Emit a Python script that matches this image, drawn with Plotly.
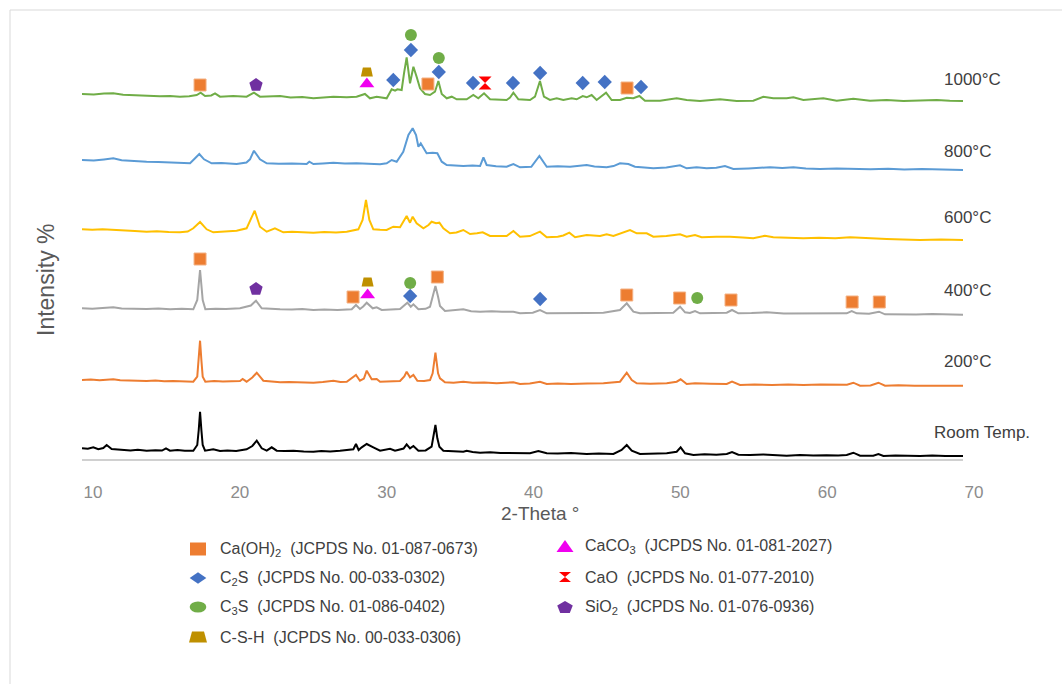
import plotly.graph_objects as go

# ---------------------------------------------------------------------------
# XRD patterns: (2-theta in degrees, intensity in a.u. above the curve's own zero)
# ---------------------------------------------------------------------------
RT = [
    (10.0, 10.7), (10.4, 10.2), (10.77, 11.7), (11.11, 9.7), (11.45, 11.0), (11.68, 14.0),
    (12.02, 10.0), (12.4, 9.6), (12.81, 9.0), (13.3, 8.6), (13.8, 9.2), (14.4, 8.3),
    (15.0, 8.8), (15.45, 8.4), (15.72, 10.7), (15.99, 8.3), (16.5, 8.9), (17.0, 8.2),
    (17.58, 8.3), (17.85, 14.0), (17.95, 29.0), (18.04, 47.3), (18.13, 29.0), (18.22, 14.0),
    (18.38, 8.3), (18.94, 9.7), (19.4, 8.0), (19.9, 8.6), (20.5, 8.1), (21.21, 9.7),
    (21.6, 13.0), (21.9, 18.3), (22.24, 10.7), (22.58, 8.3), (22.92, 11.7), (23.26, 8.3),
    (23.8, 7.9), (24.4, 8.2), (25.1, 7.6), (25.76, 7.3), (26.3, 7.9), (26.9, 7.5),
    (27.57, 8.3), (28.48, 9.7), (28.66, 15.0), (28.84, 9.0), (29.05, 11.7), (29.39, 15.0),
    (29.84, 11.7), (30.3, 8.3), (30.98, 10.3), (31.32, 8.3), (31.9, 10.5), (32.11, 14.7),
    (32.34, 10.7), (32.57, 13.0), (32.91, 8.3), (33.4, 8.6), (33.81, 12.3), (33.93, 20.7),
    (34.07, 34.0), (34.2, 20.7), (34.34, 12.3), (34.61, 8.3), (35.2, 7.8), (35.97, 7.3),
    (36.2, 8.3), (36.6, 7.0), (37.11, 6.3), (37.8, 6.8), (38.5, 6.1), (39.38, 5.7),
    (40.51, 5.7), (41.08, 8.0), (41.65, 5.7), (42.4, 5.4), (43.3, 5.9), (44.37, 5.0),
    (45.2, 5.6), (46.19, 5.0), (46.75, 9.0), (47.1, 14.0), (47.44, 8.3), (48.0, 5.0),
    (48.9, 5.5), (49.82, 5.7), (50.5, 7.3), (50.77, 11.7), (51.07, 5.7), (51.64, 4.0),
    (52.4, 4.7), (53.2, 4.3), (53.91, 5.0), (54.27, 7.0), (54.7, 4.3), (55.5, 4.0),
    (56.4, 4.6), (57.2, 3.8), (57.99, 3.3), (58.9, 3.9), (59.8, 3.4), (60.7, 3.8),
    (61.5, 3.4), (62.08, 4.0), (62.53, 6.3), (62.99, 3.3), (63.89, 3.3), (64.24, 5.0),
    (64.58, 3.0), (65.4, 3.5), (66.2, 3.0), (67.07, 3.0), (67.9, 3.4), (68.8, 2.9), (70.0, 3.0),
]

T200 = [
    (10.0, 9.0), (10.6, 9.4), (11.2, 8.7), (11.7, 9.2), (12.13, 9.7), (12.6, 8.8),
    (13.2, 8.5), (13.8, 8.9), (14.4, 8.0), (15.0, 8.4), (15.6, 7.8), (16.2, 8.1),
    (16.9, 7.6), (17.58, 7.3), (17.85, 12.3), (17.95, 29.0), (18.04, 48.3), (18.13, 29.0),
    (18.22, 12.3), (18.4, 7.3), (19.0, 7.9), (19.6, 7.5), (20.2, 8.0), (20.76, 8.0),
    (20.94, 10.0), (21.21, 7.3), (21.6, 11.5), (21.9, 16.3), (22.35, 8.3), (22.9, 7.4),
    (23.49, 6.7), (24.1, 7.1), (24.8, 6.6), (25.76, 6.3), (26.4, 6.9), (27.12, 8.3),
    (27.6, 7.0), (28.03, 7.3), (28.66, 14.0), (28.93, 8.3), (29.2, 10.5), (29.39, 18.3),
    (29.73, 9.7), (30.07, 10.0), (30.3, 7.3), (31.0, 7.6), (31.66, 8.0), (31.95, 12.5),
    (32.11, 17.3), (32.34, 11.7), (32.57, 14.0), (32.84, 8.3), (33.3, 8.0), (33.7, 9.0),
    (33.88, 15.7), (34.07, 36.3), (34.25, 15.7), (34.38, 10.7), (34.72, 6.7), (35.3, 6.3),
    (35.97, 7.3), (36.6, 6.2), (37.4, 6.6), (38.24, 5.7), (38.9, 6.0), (39.38, 6.7),
    (39.83, 5.0), (40.5, 5.4), (41.19, 7.3), (41.65, 5.0), (42.4, 5.5), (43.3, 5.1),
    (44.4, 5.6), (45.51, 5.7), (46.64, 7.3), (47.1, 16.3), (47.44, 9.0), (47.78, 5.7),
    (48.7, 5.3), (49.82, 5.7), (50.5, 7.3), (50.77, 9.7), (51.18, 5.0), (51.75, 5.7),
    (52.8, 5.2), (53.91, 5.0), (54.27, 7.3), (54.81, 4.0), (55.8, 4.4), (57.0, 4.0),
    (58.1, 4.5), (59.13, 4.0), (60.3, 4.4), (61.4, 3.9), (62.1, 4.2), (62.53, 6.3),
    (62.99, 3.3), (63.7, 3.6), (64.24, 6.3), (64.69, 3.3), (65.6, 3.7), (66.7, 3.3),
    (67.8, 3.6), (68.9, 3.2), (70.0, 3.3),
]

T400 = [
    (10.0, 10.7), (10.7, 10.3), (11.4, 11.0), (12.13, 11.7), (12.7, 10.6), (13.5, 10.2),
    (14.4, 10.0), (15.2, 10.4), (16.0, 9.8), (16.8, 10.2), (17.58, 9.7), (17.85, 19.0),
    (17.95, 34.0), (18.04, 49.0), (18.13, 34.0), (18.22, 19.0), (18.4, 9.7), (19.1, 10.3),
    (19.8, 9.9), (20.76, 10.7), (21.5, 13.5), (21.85, 18.3), (22.24, 10.7), (22.8, 10.0),
    (23.49, 9.7), (24.3, 9.4), (25.0, 9.9), (25.76, 9.0), (26.5, 9.5), (27.4, 9.1),
    (28.37, 9.7), (28.66, 14.0), (28.93, 10.0), (29.15, 12.5), (29.39, 16.3), (29.8, 10.7),
    (30.07, 11.7), (30.41, 9.0), (31.0, 9.6), (31.66, 10.0), (32.16, 16.3), (32.39, 12.3),
    (32.57, 14.7), (32.91, 9.7), (33.4, 10.2), (33.7, 12.3), (33.88, 22.3), (34.07, 33.0),
    (34.25, 22.3), (34.38, 13.0), (34.72, 8.0), (35.3, 8.5), (35.97, 9.7), (36.5, 7.8),
    (37.11, 7.3), (37.9, 7.8), (38.6, 7.2), (39.38, 7.3), (39.83, 5.7), (40.7, 6.2),
    (41.19, 9.0), (41.65, 5.7), (42.5, 6.0), (43.4, 5.6), (44.4, 6.1), (45.51, 6.3),
    (46.64, 9.0), (47.1, 15.7), (47.55, 7.3), (48.0, 5.7), (48.9, 6.1), (49.6, 5.8),
    (50.27, 6.3), (50.73, 12.3), (51.07, 6.7), (51.4, 6.0), (51.75, 8.0), (52.09, 5.7),
    (53.0, 6.2), (53.91, 6.3), (54.27, 9.0), (54.7, 5.7), (55.6, 6.0), (56.63, 6.7),
    (57.8, 5.6), (59.13, 5.7), (60.3, 6.0), (61.3, 5.5), (62.08, 5.7), (62.42, 8.0),
    (62.76, 5.7), (63.6, 5.3), (64.28, 7.3), (64.69, 4.7), (65.7, 5.0), (66.8, 4.6),
    (67.9, 4.9), (69.0, 4.4), (70.0, 4.3),
]

T600 = [
    (10.0, 19.7), (10.7, 19.2), (11.4, 19.8), (12.13, 19.0), (12.8, 18.5), (13.6, 18.0),
    (14.4, 17.3), (15.1, 17.8), (15.9, 16.9), (16.67, 16.7), (17.2, 17.5), (17.58, 20.7),
    (18.04, 27.0), (18.49, 19.7), (18.94, 16.7), (19.6, 17.4), (20.53, 18.3), (21.21, 20.7),
    (21.49, 29.0), (21.76, 38.3), (22.12, 22.3), (22.58, 17.3), (23.14, 20.7), (23.71, 16.7),
    (24.3, 17.2), (25.0, 16.5), (25.76, 16.3), (26.5, 16.9), (27.3, 16.6), (28.03, 17.3),
    (28.82, 19.7), (29.11, 29.0), (29.34, 49.0), (29.57, 29.0), (29.84, 19.7), (30.3, 19.2),
    (30.75, 19.0), (31.2, 22.3), (31.66, 21.7), (32.11, 33.0), (32.34, 26.3), (32.52, 32.3),
    (32.79, 25.7), (33.25, 20.7), (33.6, 24.0), (33.81, 27.3), (34.11, 25.7), (34.34, 26.3),
    (34.61, 20.7), (35.06, 15.7), (35.5, 16.5), (35.97, 19.0), (36.43, 15.0), (36.9, 15.8),
    (37.29, 16.7), (37.79, 13.0), (38.4, 13.4), (38.92, 13.0), (39.38, 18.0), (39.83, 12.3),
    (40.5, 12.9), (41.19, 17.3), (41.65, 11.7), (42.4, 12.3), (42.78, 13.5), (43.19, 16.3),
    (43.58, 11.7), (44.37, 14.0), (45.28, 13.0), (45.73, 14.7), (46.19, 13.0), (46.87, 16.3),
    (47.32, 19.0), (47.78, 15.7), (48.46, 15.7), (48.91, 12.3), (49.8, 12.9), (50.73, 14.7),
    (51.18, 12.3), (51.75, 14.0), (52.2, 11.7), (53.2, 12.2), (54.13, 12.3), (55.0, 11.4),
    (55.72, 10.7), (56.51, 13.3), (57.08, 11.7), (58.1, 11.2), (59.13, 10.7), (60.2, 11.3),
    (61.3, 10.8), (62.31, 11.7), (63.5, 10.6), (64.8, 10.0), (65.9, 9.6), (67.07, 9.0),
    (68.5, 9.4), (70.0, 9.0),
]

T800 = [
    (10.0, 19.0), (10.8, 18.4), (11.5, 19.6), (12.13, 20.7), (12.7, 18.8), (13.5, 17.9),
    (14.4, 17.3), (15.2, 17.0), (16.0, 16.4), (16.8, 16.0), (17.36, 15.7), (17.7, 20.7),
    (17.99, 25.0), (18.31, 19.7), (18.83, 15.7), (19.5, 15.9), (20.53, 15.0), (21.2, 16.5),
    (21.44, 19.7), (21.71, 28.3), (22.12, 19.7), (22.58, 15.7), (23.4, 15.2), (24.3, 15.6),
    (25.3, 15.0), (25.48, 17.3), (25.76, 15.0), (26.4, 15.6), (27.12, 16.3), (27.9, 15.4),
    (28.7, 15.8), (29.5, 15.2), (30.3, 14.7), (30.75, 15.7), (31.09, 19.0), (31.43, 17.3),
    (31.88, 27.3), (32.23, 44.0), (32.52, 50.7), (32.75, 44.0), (32.91, 32.3), (33.07, 35.7),
    (33.25, 30.7), (33.47, 25.7), (33.88, 26.3), (34.2, 25.7), (34.5, 17.3), (34.84, 14.0),
    (35.4, 13.6), (35.97, 13.0), (36.6, 13.4), (37.11, 13.0), (37.34, 21.7), (37.56, 14.0),
    (38.2, 12.8), (38.92, 12.3), (39.38, 15.0), (39.83, 11.7), (40.6, 12.2), (41.15, 23.0),
    (41.65, 12.3), (42.4, 12.8), (43.24, 12.3), (44.0, 13.2), (44.37, 14.0), (44.9, 12.6),
    (45.73, 11.7), (46.2, 12.9), (46.64, 15.7), (47.21, 15.0), (47.66, 12.3), (48.3, 11.4),
    (48.91, 10.7), (49.8, 11.4), (50.73, 13.7), (51.18, 10.7), (51.86, 11.7), (52.54, 10.7),
    (53.2, 11.2), (53.79, 13.0), (54.36, 10.0), (55.4, 10.6), (56.2, 11.2), (56.86, 11.7),
    (57.7, 11.0), (58.45, 11.7), (59.3, 10.5), (60.26, 10.0), (61.4, 10.4), (62.53, 10.0),
    (63.7, 9.7), (64.9, 10.2), (66.0, 9.6), (67.2, 9.9), (68.5, 9.3), (70.0, 9.0),
]

T1000 = [
    (10.0, 15.0), (10.8, 14.6), (11.5, 15.4), (12.13, 15.7), (12.8, 14.2), (13.6, 13.6),
    (14.4, 13.0), (15.3, 12.7), (16.0, 12.9), (16.67, 12.3), (17.3, 12.8), (17.81, 14.0),
    (18.08, 16.3), (18.38, 13.0), (18.8, 13.6), (19.06, 15.7), (19.4, 12.3), (20.3, 12.9),
    (21.21, 12.3), (21.71, 16.3), (22.12, 12.3), (22.8, 12.8), (23.49, 13.0), (24.2, 11.6),
    (25.0, 11.9), (25.76, 10.7), (26.4, 11.5), (27.12, 12.3), (28.03, 11.7), (28.7, 12.2),
    (29.27, 15.0), (29.61, 10.7), (30.07, 12.3), (30.75, 10.7), (31.09, 19.7), (31.32, 18.3),
    (31.48, 19.7), (31.77, 19.0), (31.93, 35.7), (32.11, 51.7), (32.34, 25.7), (32.57, 42.3),
    (32.79, 32.3), (33.02, 20.7), (33.36, 15.0), (33.7, 14.0), (34.04, 17.3), (34.27, 28.0),
    (34.5, 15.0), (34.84, 10.7), (35.18, 12.3), (35.52, 9.7), (36.2, 9.7), (36.65, 14.0),
    (36.99, 10.7), (37.38, 15.7), (37.79, 9.7), (38.4, 9.4), (38.92, 9.0), (39.15, 11.5),
    (39.38, 16.3), (39.72, 9.7), (40.51, 9.0), (40.85, 12.3), (41.19, 28.0), (41.46, 12.3),
    (41.87, 9.0), (42.33, 10.7), (42.78, 9.0), (43.35, 10.7), (43.69, 9.7), (44.1, 13.0),
    (44.37, 11.7), (44.71, 14.0), (45.05, 9.0), (45.69, 16.3), (46.07, 9.0), (46.64, 9.0),
    (47.1, 11.3), (47.55, 10.7), (47.96, 13.0), (48.34, 8.3), (49.37, 8.3), (50.5, 10.7),
    (51.18, 9.0), (52.09, 8.0), (53.45, 9.7), (54.59, 8.0), (55.72, 8.3), (56.4, 12.3),
    (57.08, 10.7), (57.99, 10.7), (58.45, 11.7), (59.13, 9.0), (60.49, 10.7), (61.4, 8.3),
    (62.53, 10.3), (63.67, 8.3), (64.8, 8.9), (65.94, 8.0), (67.1, 8.7), (68.21, 9.0),
    (69.1, 8.3), (70.0, 8.0),
]

PATTERNS = [RT, T200, T400, T600, T800, T1000]
SAMPLE_NAMES = ["Room Temp.", "200°C", "400°C", "600°C", "800°C", "1000°C"]
STACK_OFFSETS = [0, 70, 140, 210, 280, 350]
LINE_COLORS = ["#000000", "#ED7D31", "#A5A5A5", "#FFC000", "#5B9BD5", "#70AD47"]

# ---------------------------------------------------------------------------
# Phase identification marks (2-theta, stacked height of the tag)
# ---------------------------------------------------------------------------
CAOH2_TT = [18.04, 33.56, 47.12, 18.04, 28.46, 34.2, 47.1, 50.7, 54.2, 62.45, 64.3]
CAOH2_Y = [374, 375, 371, 200, 162, 182, 164, 161, 159, 157, 157]
C2S_TT = [31.2, 32.4, 34.3, 36.63, 39.35, 41.2, 44.1, 45.6, 48.07, 32.35, 41.2]
C2S_Y = [379, 409, 387, 376, 376, 386, 376, 377, 372, 163, 160]
C3S_TT = [32.4, 34.3, 32.35, 51.9]
C3S_Y = [424, 401, 176, 161]
CSH_TT = [29.4, 29.45]
CSH_Y = [387, 177]
CACO3_TT = [29.4, 29.45]
CACO3_Y = [375, 164]
CAO_TT = [37.45]
CAO_Y = [376]
SIO2_TT = [21.85, 21.85]
SIO2_Y = [374, 170]

LEGEND_LEFT = [
    "Ca(OH)<sub>2</sub>\u00a0 (JCPDS No. 01-087-0673)",
    "C<sub>2</sub>S\u00a0 (JCPDS No. 00-033-0302)",
    "C<sub>3</sub>S\u00a0 (JCPDS No. 01-086-0402)",
    "C-S-H\u00a0 (JCPDS No. 00-033-0306)",
]
LEGEND_RIGHT = [
    "CaCO<sub>3</sub>\u00a0 (JCPDS No. 01-081-2027)",
    "CaO\u00a0 (JCPDS No. 01-077-2010)",
    "SiO<sub>2</sub>\u00a0 (JCPDS No. 01-076-0936)",
]

X_TICKS = [10, 20, 30, 40, 50, 60, 70]

# ---------------------------------------------------------------------------
# Page geometry (pixels)
# ---------------------------------------------------------------------------
FIG_W, FIG_H = 1062, 684
PL, PR, PT, PB = 82, 963, 20, 459
PW, PH = PR - PL, PB - PT


def paper_x(px):
    return (px - PL) / PW


def paper_y(py):
    return (PB - py) / PH


def poly(pts):
    return "M " + " L ".join(f"{x:.2f},{y:.2f}" for x, y in pts) + " Z"


def trapezoid(bottom, top, h):
    return poly([(-bottom / 2, -h / 2), (bottom / 2, -h / 2), (top / 2, h / 2), (-top / 2, h / 2)])


def pentagon(w, h):
    base = [(0, 1), (0.951, 0.309), (0.588, -0.809), (-0.588, -0.809), (-0.951, 0.309)]
    sx, sy = w / 1.902, h / 1.809
    return poly([(x * sx, (y - 0.0955) * sy) for x, y in base])


fig = go.Figure()

for pts, off, col in zip(PATTERNS, STACK_OFFSETS, LINE_COLORS):
    fig.add_trace(go.Scatter(
        x=[p[0] for p in pts], y=[p[1] + off for p in pts],
        mode="lines", line=dict(color=col, width=2),
        hoverinfo="skip", showlegend=False,
    ))

PHASE_MARKS = [
    (CAOH2_TT, CAOH2_Y, dict(symbol="square", size=12, color="#ED7D31", line=dict(color="#F4B183", width=1))),
    (C2S_TT, C2S_Y, dict(symbol="diamond", size=11, color="#4472C4", line=dict(width=0))),
    (C3S_TT, C3S_Y, dict(symbol="circle", size=12, color="#70AD47", line=dict(width=0))),
    (CACO3_TT, CACO3_Y, dict(symbol="triangle-up", size=13, color="#F000F0", line=dict(width=0))),
    (CAO_TT, CAO_Y, dict(symbol="hourglass", size=13, color="#FF0000", line=dict(width=0))),
    (SIO2_TT, SIO2_Y, dict(symbol="pentagon", size=14, color="#7030A0", line=dict(width=0))),
]
for tt, yy, mk in PHASE_MARKS:
    fig.add_trace(go.Scatter(x=tt, y=yy, mode="markers", marker=mk,
                             cliponaxis=False, hoverinfo="skip", showlegend=False))

shapes = []
# C-S-H tags (trapezoids anchored on the data coordinates)
for tt, yy in zip(CSH_TT, CSH_Y):
    shapes.append(dict(type="path", xref="x", yref="y", xsizemode="pixel", ysizemode="pixel",
                       xanchor=tt, yanchor=yy, path=trapezoid(12, 8, 9),
                       fillcolor="#BF9000", line=dict(width=0)))

# outer frame
shapes.append(dict(type="rect", xref="paper", yref="paper", layer="below",
                   x0=paper_x(10), x1=paper_x(1080), y0=paper_y(700), y1=paper_y(10),
                   line=dict(color="#D9D9D9", width=1), fillcolor="rgba(0,0,0,0)"))

# legend keys
LEFT_ROWS = [549, 578, 607, 637]
RIGHT_ROWS = [546, 577, 607]
LEFT_KEY_X, LEFT_TEXT_X = 198, 218
RIGHT_KEY_X, RIGHT_TEXT_X = 565, 583

left_keys = [
    ("path", poly([(-8, -6.5), (8, -6.5), (8, 6.5), (-8, 6.5)]), "#ED7D31"),
    ("path", poly([(-8.3, 0), (0, 5.8), (8.3, 0), (0, -5.8)]), "#4472C4"),
    ("circle", None, "#70AD47"),
    ("path", trapezoid(18, 12, 11), "#BF9000"),
]
right_keys = [
    ("path", poly([(-8.5, -6), (8.5, -6), (0, 6)]), "#F000F0"),
    ("path", poly([(-6, 5), (6, 5), (-6, -5), (6, -5)]), "#FF0000"),
    ("path", pentagon(15.5, 12), "#7030A0"),
]


def key_shape(kind, path, color, px, py):
    d = dict(xref="paper", yref="paper", xsizemode="pixel", ysizemode="pixel",
             xanchor=paper_x(px), yanchor=paper_y(py), fillcolor=color, line=dict(width=0))
    if kind == "circle":
        d.update(type="circle", x0=-8.3, x1=8.3, y0=-5.5, y1=5.5)
    else:
        d.update(type="path", path=path)
    return d


for (kind, path, color), row in zip(left_keys, LEFT_ROWS):
    shapes.append(key_shape(kind, path, color, LEFT_KEY_X, row))
for (kind, path, color), row in zip(right_keys, RIGHT_ROWS):
    shapes.append(key_shape(kind, path, color, RIGHT_KEY_X, row))

annotations = []
for text, row in zip(LEGEND_LEFT, LEFT_ROWS):
    annotations.append(dict(text=text, xref="paper", yref="paper", x=paper_x(LEFT_TEXT_X),
                            y=paper_y(row), xanchor="left", yanchor="middle", showarrow=False,
                            font=dict(size=16, color="#404040")))
for text, row in zip(LEGEND_RIGHT, RIGHT_ROWS):
    annotations.append(dict(text=text, xref="paper", yref="paper", x=paper_x(RIGHT_TEXT_X),
                            y=paper_y(row), xanchor="left", yanchor="middle", showarrow=False,
                            font=dict(size=16, color="#404040")))

# sample names at the right end of each curve
LABEL_Y = [27, 98, 169, 242, 308, 380]
LABEL_X = [932, 942, 942, 942, 942, 942]
for name, ly, lx in zip(SAMPLE_NAMES, LABEL_Y, LABEL_X):
    annotations.append(dict(text=name, xref="paper", yref="y", x=paper_x(lx), y=ly,
                            xanchor="left", yanchor="middle", showarrow=False,
                            font=dict(size=17, color="#404040")))

# axis titles
annotations.append(dict(text="2-Theta °", xref="paper", yref="paper", x=paper_x(540), y=paper_y(513),
                        xanchor="center", yanchor="middle", showarrow=False,
                        font=dict(size=19, color="#595959")))
annotations.append(dict(text="Intensity %", xref="paper", yref="paper", x=paper_x(46), y=paper_y(280),
                        xanchor="center", yanchor="middle", showarrow=False, textangle=-90,
                        font=dict(size=23, color="#595959")))

fig.update_layout(
    width=FIG_W, height=FIG_H,
    margin=dict(l=PL, r=FIG_W - PR, t=PT, b=FIG_H - PB, pad=0),
    paper_bgcolor="white", plot_bgcolor="white",
    showlegend=False,
    font=dict(family="Liberation Sans, Arial, sans-serif"),
    shapes=shapes, annotations=annotations,
)
fig.update_xaxes(range=[10, 70], tickvals=X_TICKS, showgrid=False, zeroline=False,
                 showline=True, linecolor="#D0D0D0", linewidth=1.5, ticks="",
                 tickfont=dict(size=17, color="#8C8C8C"),
                 ticklabelshift=11, ticklabelstandoff=17)
fig.update_yaxes(range=[0, PH], visible=False, showgrid=False, zeroline=False)

fig.write_html("out.html")
